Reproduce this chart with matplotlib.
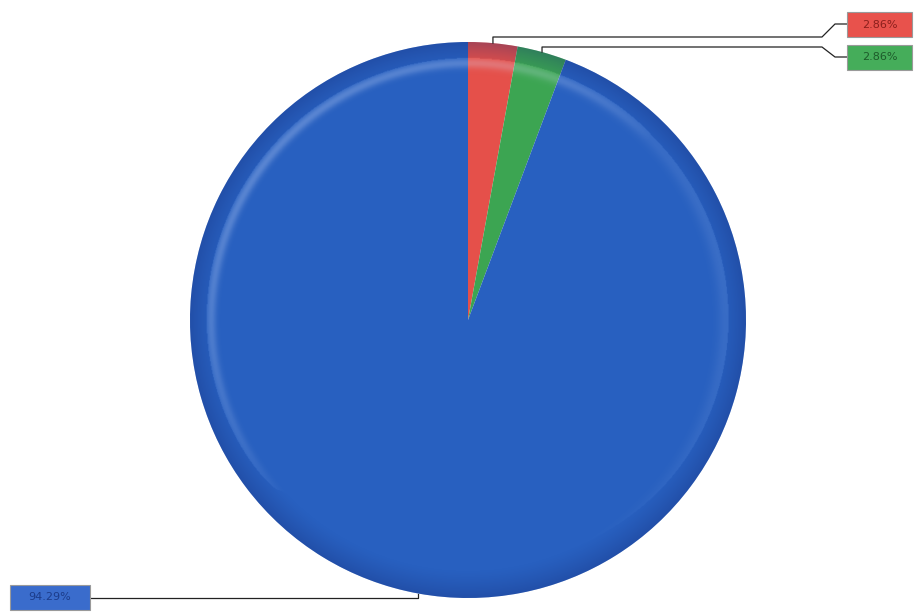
import matplotlib
matplotlib.use("Agg")
import matplotlib.pyplot as plt
from matplotlib.patches import Circle
import numpy as np

# slice shares in percent, drawn clockwise from 12 o'clock
names = ["red", "green", "blue"]
shares = [2.86, 2.86, 94.29]
colors = ["#e5504a", "#3ca552", "#2860c0"]
box_colors = ["#e8524c", "#45ad5a", "#3a6ccc"]
text_colors = ["#8a1f1c", "#1d5a2a", "#1c3c8a"]

W, H = 917, 612
fig = plt.figure(figsize=(W / 100, H / 100), dpi=100)
ax = fig.add_axes([0, 0, 1, 1])

cx, cy, R = 468, 292, 278
ax.pie(shares, colors=colors, startangle=90, counterclock=False,
       center=(cx, cy), radius=R, frame=True, wedgeprops=dict(linewidth=0))
ax.set_xlim(0, W); ax.set_ylim(0, H)
ax.set_aspect("equal"); ax.axis("off")

# soft 3d shading: navy rim plus a thin pale highlight ring toward upper left
n = 700
xs = np.linspace(-1, 1, n)
X, Y = np.meshgrid(xs, xs[::-1])
r = np.hypot(X, Y)
th = np.arctan2(Y, X)
rim = 0.30 * np.clip((r - 0.90) / 0.10, 0, 1) ** 1.3
hl = 0.28 * np.exp(-((r - 0.925) / 0.018) ** 2) * np.clip(np.cos(th - np.deg2rad(135)), 0, 1) ** 0.7
hl += 0.10 * np.exp(-((r - 0.93) / 0.03) ** 2) * np.clip(np.cos(th - np.deg2rad(20)), 0, 1)
rgba = np.zeros((n, n, 4))
light = hl > rim
rgba[..., 0] = np.where(light, 0.85, 0.08)
rgba[..., 1] = np.where(light, 0.90, 0.16)
rgba[..., 2] = np.where(light, 1.00, 0.45)
rgba[..., 3] = np.clip(np.maximum(hl, rim), 0, 1)
img = ax.imshow(rgba, extent=(cx - R, cx + R, cy - R, cy + R), zorder=3,
                interpolation="bilinear")
img.set_clip_path(Circle((cx, cy), R, transform=ax.transData))

# wedge mid angles for leader anchors
ends = np.cumsum(shares) / sum(shares) * 360
mids = 90 - (ends - np.array(shares) / sum(shares) * 180)


def anchor(i):
    a = np.deg2rad(mids[i])
    return cx + R * np.cos(a), cy + R * np.sin(a)


def label_box(i, x0, y0, w, h):
    ax.add_patch(plt.Rectangle((x0, y0), w, h, fc=box_colors[i], ec="#9a9a9a",
                               lw=0.8, zorder=5))
    ax.text(x0 + w / 2, y0 + h / 2, f"{shares[i]:.2f}%", ha="center", va="center",
            fontsize=8, color=text_colors[i], zorder=6)


lc = dict(color="#222222", lw=0.9, zorder=4)

# red label, upper right
ax0, ay0 = anchor(0)
ax.plot([ax0, ax0, 822, 835, 847], [ay0, H - 37, H - 37, H - 24, H - 24], **lc)
label_box(0, 847, H - 37, 65, 25)

# green label, below it
ax1, ay1 = anchor(1)
ax.plot([ax1, ax1, 822, 835, 847], [ay1, H - 47, H - 47, H - 57, H - 57], **lc)
label_box(1, 847, H - 70, 65, 25)

# blue label, lower left
ax2, ay2 = anchor(2)
ax.plot([ax2, ax2, 90], [ay2, H - 598, H - 598], **lc)
label_box(2, 10, H - 610, 80, 25)

fig.savefig("out.png", dpi=100)
